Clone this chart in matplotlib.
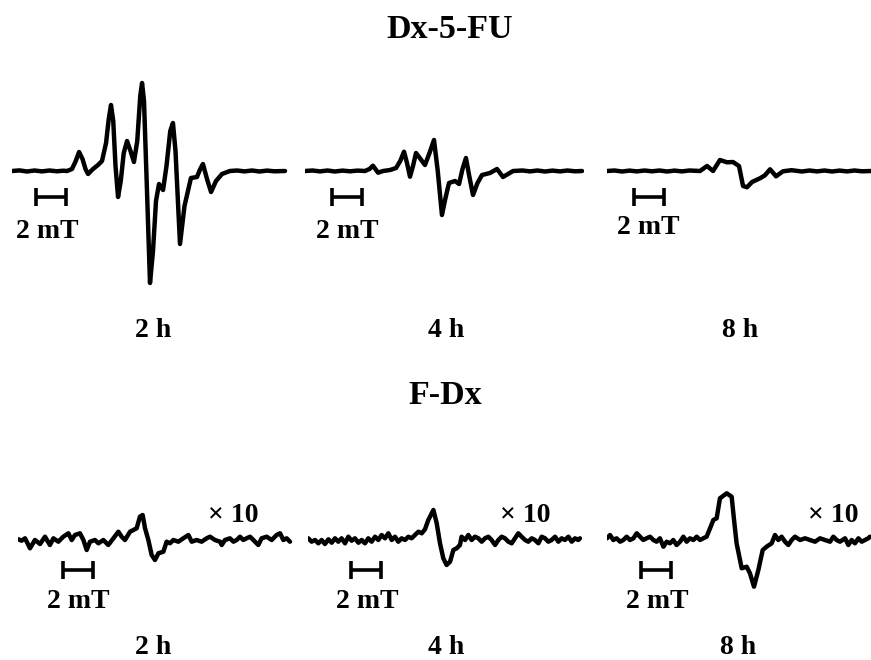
import matplotlib
matplotlib.use("Agg")
import matplotlib.pyplot as plt

# ---------------- data (field in mT from left end of each trace, intensity in a.u.) ----------------
# Dx-5-FU, 2 h
dx_2h_field = [0.0, 0.5, 1.0, 1.5, 2.0, 2.5, 3.0, 3.4, 3.67, 4.0, 4.25, 4.47, 4.7, 4.9, 5.07, 5.4, 5.73, 6.0,
               6.27, 6.45, 6.6, 6.75, 6.9, 7.07, 7.25, 7.45, 7.67, 7.9, 8.13, 8.35, 8.55, 8.67, 8.8, 9.0,
               9.2, 9.4, 9.6, 9.8, 10.07, 10.3, 10.55, 10.73, 10.9, 11.2, 11.5, 11.93, 12.33, 12.55, 12.73,
               13.0, 13.27, 13.6, 14.0, 14.53, 15.0, 15.5, 16.0, 16.5, 17.0, 17.5, 18.2]
dx_2h_int = [0.0, 0.6, -0.5, 0.5, -0.4, 0.5, -0.3, 0.3, 0.0, 2.0, 10.0, 19.0, 12.0, 2.0, -3.0, 2.0, 6.0, 10.0,
             28.0, 52.0, 66.0, 50.0, 5.0, -26.0, -10.0, 18.0, 30.0, 20.0, 9.0, 30.0, 75.0, 88.0, 70.0, -20.0,
             -112.0, -80.0, -30.0, -13.0, -19.0, 5.0, 40.0, 48.0, 20.0, -73.0, -35.0, -7.0, -6.0, 2.0, 7.0,
             -8.0, -21.0, -10.0, -3.0, 0.0, 0.5, -0.4, 0.5, -0.5, 0.4, -0.3, 0.0]

# Dx-5-FU, 4 h
dx_4h_field = [0.0, 0.5, 1.0, 1.5, 2.0, 2.5, 3.0, 3.5, 4.0, 4.3, 4.53, 4.87, 5.2, 5.67, 6.07, 6.35, 6.6, 6.8,
               7.0, 7.2, 7.4, 7.7, 8.0, 8.3, 8.6, 8.85, 9.13, 9.35, 9.6, 10.0, 10.27, 10.5, 10.73, 10.95,
               11.2, 11.5, 11.8, 12.33, 12.8, 13.2, 13.87, 14.5, 15.0, 15.5, 16.0, 16.5, 17.0, 17.5, 18.0, 18.47]
dx_4h_int = [0.0, 0.5, -0.4, 0.5, -0.5, 0.4, -0.3, 0.4, 0.0, 2.0, 5.3, -1.7, 0.0, 1.0, 3.0, 10.0, 19.3, 8.0,
             -5.7, 5.0, 18.0, 12.0, 6.0, 18.0, 31.0, 0.0, -44.0, -28.0, -12.0, -10.0, -13.0, 2.0, 13.0, -5.0,
             -24.0, -12.0, -4.0, -2.0, 2.0, -6.0, 0.0, 0.5, -0.4, 0.5, -0.5, 0.4, -0.4, 0.5, -0.3, 0.0]

# Dx-5-FU, 8 h
dx_8h_field = [0.0, 0.5, 1.0, 1.5, 2.0, 2.5, 3.0, 3.5, 4.0, 4.5, 5.0, 5.5, 6.2, 6.67, 7.07, 7.53, 8.0, 8.4,
               8.8, 9.07, 9.33, 9.67, 10.2, 10.53, 10.87, 11.27, 11.73, 12.3, 13.0, 13.5, 14.0, 14.5, 15.0,
               15.5, 16.0, 16.5, 17.0, 17.6]
dx_8h_int = [0.0, 0.5, -0.5, 0.4, -0.4, 0.5, -0.3, 0.5, -0.5, 0.4, -0.4, 0.5, 0.0, 5.0, 0.0, 11.0, 8.7, 9.0,
             5.0, -15.0, -16.3, -11.0, -7.3, -4.3, 1.7, -5.3, -0.3, 0.8, -0.5, 0.5, -0.4, 0.5, -0.5, 0.4,
             -0.4, 0.5, -0.3, 0.0]

# F-Dx, 2 h (x10)
fdx_2h_field = [0.02, 0.24, 0.47, 0.8, 1.13, 1.47, 1.8, 2.13, 2.36, 2.69, 3.02, 3.36, 3.58, 3.8, 4.13, 4.36,
                4.58, 4.8, 5.13, 5.36, 5.69, 6.02, 6.36, 6.69, 6.91, 7.13, 7.47, 7.69, 7.91, 8.13, 8.31,
                8.47, 8.69, 8.91, 9.13, 9.36, 9.69, 9.91, 10.13, 10.36, 10.69, 11.02, 11.36, 11.58, 11.91,
                12.24, 12.58, 12.8, 13.13, 13.47, 13.58, 13.8, 14.13, 14.36, 14.58, 14.8, 15.02, 15.24,
                15.47, 15.69, 16.02, 16.24, 16.58, 16.91, 17.24, 17.47, 17.69, 17.91, 18.13]
fdx_2h_int = [0.7, -0.7, 1.7, -8.3, 0.0, -4.0, 3.3, -5.0, 1.7, -1.7, 3.3, 6.7, 0.0, 5.0, 6.7, 0.0,
              -10.0, -1.7, 0.0, -3.3, 0.0, -5.0, 1.7, 8.3, 3.3, 0.0, 8.3, 10.0, 11.7, 23.3, 25.0,
              11.7, 0.0, -15.0, -20.0, -13.3, -11.7, -1.7, -3.3, 0.0, -1.7, 1.7, 5.0, -1.7, 0.0,
              -1.7, 1.7, 3.3, 0.0, -1.7, -5.0, 0.0, 1.7, -1.7, 0.0, 3.3, 0.0, 1.7,
              3.3, 0.0, -5.0, 1.7, 3.3, 0.0, 5.0, 6.7, 0.0, 1.7, -1.7]

# F-Dx, 4 h (x10)
fdx_4h_field = [0.02, 0.24, 0.47, 0.69, 0.91, 1.13, 1.36, 1.58, 1.8, 2.02, 2.24, 2.47, 2.69, 2.91, 3.13,
                3.36, 3.58, 3.8, 4.02, 4.24, 4.47, 4.69, 4.91, 5.13, 5.36, 5.58, 5.8, 6.02, 6.24, 6.47,
                6.69, 6.91, 7.13, 7.36, 7.58, 7.8, 8.02, 8.36, 8.58, 8.8, 9.02, 9.24, 9.47, 9.69, 9.91,
                10.13, 10.24, 10.47, 10.69, 10.91, 11.13, 11.36, 11.58, 11.8, 12.02, 12.24, 12.47, 12.69,
                12.91, 13.13, 13.36, 13.58, 13.8, 14.02, 14.24, 14.47, 14.69, 14.91, 15.13, 15.36, 15.58,
                15.8, 16.02, 16.24, 16.47, 16.69, 16.91, 17.13, 17.36, 17.58, 17.8, 18.02, 18.13]
fdx_4h_int = [1.7, -1.7, 0.0, -3.3, 0.0, -4.0, 0.7, -2.7, 1.7, -1.7, 1.7, -3.3, 3.3, -0.7, 1.7,
              -2.7, 0.0, -3.3, 1.7, -1.7, 3.3, 0.0, 5.0, 1.7, 6.7, 0.0, 3.3, -1.7, 1.7, 0.0,
              3.3, 1.7, 5.0, 8.3, 6.7, 10.7, 20.0, 30.0, 16.7, -3.3, -18.3, -25.0, -21.7, -10.0, -8.3,
              -5.0, 3.3, 0.0, 5.0, 0.0, 3.3, 1.7, -1.7, 1.7, 3.3, 0.0, -5.0, 0.0,
              3.3, 1.7, -1.7, -3.3, 1.7, 6.7, 3.3, 0.0, -1.7, 1.7, 0.0, -3.3, 3.3,
              1.7, -1.7, 0.0, 3.3, -1.7, 1.7, 0.0, 3.3, -1.7, 1.7, 0.0, 1.7]

# F-Dx, 8 h (x10)
fdx_8h_field = [0.0, 0.2, 0.42, 0.64, 0.87, 1.09, 1.31, 1.53, 1.76, 1.98, 2.2, 2.42, 2.64, 2.87, 3.09,
                3.31, 3.53, 3.76, 3.98, 4.2, 4.42, 4.64, 4.87, 5.09, 5.31, 5.53, 5.76, 5.98, 6.2, 6.42,
                6.64, 6.87, 7.09, 7.31, 7.53, 7.98, 8.31, 8.47, 8.64, 8.98, 9.31, 9.53, 9.8, 10.09, 10.38,
                10.64, 10.98, 11.2, 11.42, 11.64, 11.87, 12.09, 12.31, 12.53, 12.87, 13.2, 13.53, 13.87,
                14.2, 14.53, 14.87, 15.09, 15.31, 15.53, 15.87, 16.09, 16.31, 16.53, 16.76, 16.98, 17.2,
                17.42, 17.53]
fdx_8h_int = [1.7, 5.0, 0.0, 1.7, -1.7, 0.0, 3.3, 0.0, 1.7, 6.7, 3.3, 0.0, 1.7, 3.3, 0.0,
              -1.7, 1.7, -6.7, -1.7, -3.3, 0.0, -5.0, -1.7, 3.3, -1.7, 1.7, 0.0, 3.3, 0.0, 1.7,
              3.3, 11.7, 20.0, 21.7, 41.7, 46.7, 43.3, 20.0, -3.3, -28.3, -26.7, -33.3, -46.7, -30.0, -10.0,
              -6.7, -3.3, 5.0, 0.0, 3.3, -1.7, -5.0, 0.0, 3.3, 0.0, 1.7, 0.0, -1.7,
              1.7, 0.0, -1.7, 3.3, 0.0, -1.7, 1.7, -5.0, 0.0, -3.3, 1.7, -1.7, 0.0,
              1.7, 3.3]

time_labels = ["2 h", "4 h", "8 h"]
group_titles = ["Dx-5-FU", "F-Dx"]
scale_label = "2 mT"
gain_label = "× 10"
scale_len_mT = 2.0

# ---------------- layout ----------------
W, H = 871, 660
PX_PER_MT = 15.0
fig = plt.figure(figsize=(W / 100, H / 100), dpi=100)
FONT = dict(family="Liberation Serif", weight="bold", color="black")


def panel(left_px, right_px, base_py, half=130):
    """Axes spanning pixel columns [left_px, right_px], baseline at base_py; 1 a.u. = 1 px."""
    ax = fig.add_axes([left_px / W, (H - base_py - half) / H,
                       (right_px - left_px) / W, 2 * half / H])
    ax.set_xlim(0, (right_px - left_px) / PX_PER_MT)
    ax.set_ylim(-half, half)
    ax.axis("off")
    return ax


def scalebar(ax, b0, y):
    ax.errorbar([b0 + scale_len_mT / 2], [y], xerr=[scale_len_mT / 2], fmt="none",
                ecolor="black", elinewidth=2.6, capsize=6.5, capthick=2.6)


def ftext(x, y, s, size):
    fig.text(x / W, 1 - y / H, s, ha="center", va="center", fontsize=size, **FONT)


LW = 3.2
top = [(12, 290, dx_2h_field, dx_2h_int, 1.6),
       (305, 584, dx_4h_field, dx_4h_int, 1.8),
       (607, 871, dx_8h_field, dx_8h_int, 1.8)]
for left, right, f, y, sb in top:
    ax = panel(left, right, 171)
    ax.plot(f, y, color="black", lw=LW, solid_joinstyle="round", solid_capstyle="round")
    scalebar(ax, sb, -26)

bottom = [(18, 294, fdx_2h_field, fdx_2h_int, 3.0),
          (308, 582, fdx_4h_field, fdx_4h_int, 2.87),
          (607, 871, fdx_8h_field, fdx_8h_int, 2.27)]
for left, right, f, y, sb in bottom:
    ax = panel(left, right, 540)
    ax.plot(f, y, color="black", lw=LW, solid_joinstyle="round", solid_capstyle="round")
    scalebar(ax, sb, -30)

# text
ftext(450, 29, group_titles[0], 24.5)
ftext(445, 395, group_titles[1], 24.5)
for x, lab in zip([153, 446, 740], time_labels):
    ftext(x, 331, lab, 20)
for x, lab in zip([153, 446, 738], time_labels):
    ftext(x, 647, lab, 20)
for x, y in [(47, 231), (347, 231), (648, 228), (78, 601), (367, 601), (657, 601)]:
    ftext(x, y, scale_label, 20)
for x in [233, 525, 833]:
    ftext(x, 515, gain_label, 20)

fig.savefig("out.png", dpi=100)
